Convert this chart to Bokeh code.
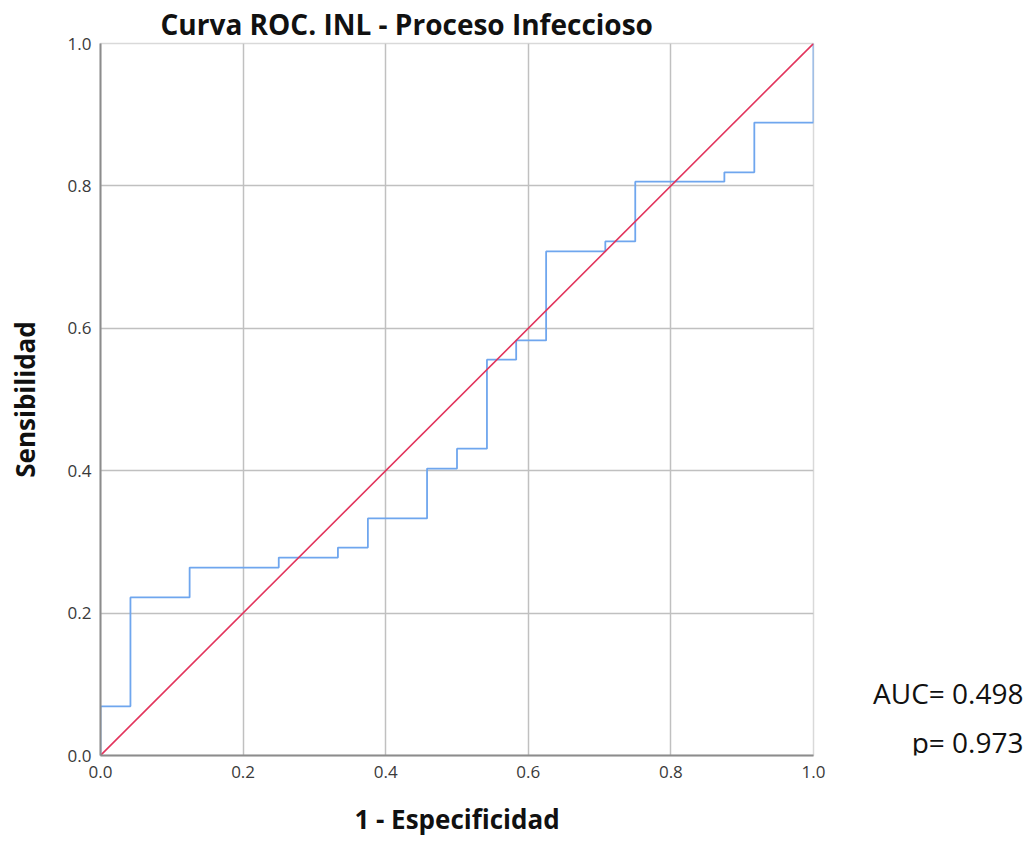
from bokeh.plotting import figure
from bokeh.models import Label, Range1d, FixedTicker, NumeralTickFormatter
from bokeh.layouts import row
from bokeh.embed import file_html
from bokeh.resources import INLINE

# ROC curve corner points (1 - especificidad, sensibilidad)
fpr = [0.0, 0.0, 0.042, 0.125, 0.250, 0.333, 0.375, 0.458, 0.500, 0.542,
       0.583, 0.625, 0.708, 0.750, 0.875, 0.917, 1.0]
tpr = [0.0, 0.069, 0.222, 0.264, 0.278, 0.292, 0.333, 0.403, 0.431, 0.556,
       0.583, 0.708, 0.722, 0.806, 0.819, 0.889, 1.0]
ref_x = [0.0, 1.0]
ref_y = [0.0, 1.0]
ticks = [0.0, 0.2, 0.4, 0.6, 0.8, 1.0]
title_text = "Curva ROC. INL - Proceso Infeccioso"
auc_text = "AUC= 0.498"
p_text = "p= 0.973"

FONT = "Open Sans"

p = figure(width=833, height=844, output_backend="svg", toolbar_location=None,
           x_range=Range1d(0, 1), y_range=Range1d(0, 1),
           min_border_left=100, min_border_right=20,
           min_border_top=43, min_border_bottom=89)
p.frame_width = 713
p.frame_height = 712
p.background_fill_color = "white"
p.border_fill_color = "white"
p.outline_line_color = "#d9d9d9"
p.outline_line_width = 1.5

p.title.text = title_text
p.title.text_font = FONT
p.title.text_font_style = "bold"
p.title.text_font_size = "28px"
p.title.text_color = "#111111"
p.title.align = "left"
p.title.offset = 60
p.title.standoff = 2

for ax in (p.xaxis, p.yaxis):
    ax.ticker = FixedTicker(ticks=ticks)
    ax.formatter = NumeralTickFormatter(format="0.0")
    ax.major_tick_out = 0
    ax.major_tick_in = 0
    ax.minor_tick_out = 0
    ax.minor_tick_in = 0
    ax.axis_line_color = "#8c8c8c"
    ax.axis_line_width = 2
    ax.major_label_text_font = FONT
    ax.major_label_text_font_size = "17px"
    ax.major_label_text_color = "#3a3a3a"
    ax.axis_label_text_font = FONT
    ax.axis_label_text_font_style = "bold"
    ax.axis_label_text_font_size = "26px"
    ax.axis_label_text_color = "#111111"

p.xaxis.axis_label = "1 - Especificidad"
p.yaxis.axis_label = "Sensibilidad"
p.xaxis.major_label_standoff = 10
p.yaxis.major_label_standoff = 9
p.xaxis.axis_label_standoff = 20
p.yaxis.axis_label_standoff = 22

for g in (p.xgrid, p.ygrid):
    g.ticker = FixedTicker(ticks=[0.2, 0.4, 0.6, 0.8])
    g.grid_line_color = "#c0c0c0"
    g.grid_line_width = 1.5

p.step(fpr, tpr, mode="after", line_color="#6fa6ee", line_width=1.8)
p.line(ref_x, ref_y, line_color="#e2345c", line_width=1.6)

# side panel carrying the AUC annotation (same vertical frame as the main plot)
p2 = figure(width=198, height=844, output_backend="svg", toolbar_location=None,
            x_range=Range1d(0, 198), y_range=Range1d(0, 1),
            x_axis_location=None, y_axis_location=None,
            min_border_left=0, min_border_right=0,
            min_border_top=43, min_border_bottom=89)
p2.frame_width = 198
p2.frame_height = 712
p2.grid.visible = False
p2.outline_line_color = None
p2.background_fill_color = "white"
p2.border_fill_color = "white"
p2.add_layout(Label(x=190, y=0.088, text=auc_text, text_font=FONT,
                    text_font_size="28px", text_align="right",
                    text_baseline="middle", text_color="#111111"))
p2.add_layout(Label(x=190, y=0.019, text=p_text, text_font=FONT,
                    text_font_size="28px", text_align="right",
                    text_baseline="middle", text_color="#111111"))

layout = row(p, p2, spacing=0)
open("out.html", "w").write(file_html(layout, INLINE))
